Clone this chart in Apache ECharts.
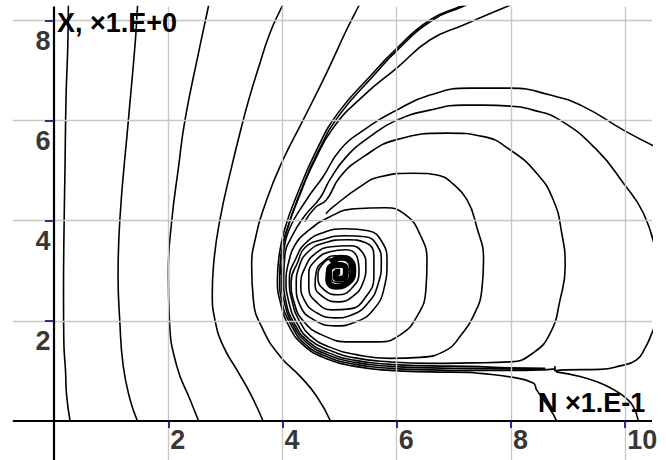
<!DOCTYPE html>
<html>
<head>
<meta charset="utf-8">
<script src="https://cdn.jsdelivr.net/npm/echarts@6/dist/echarts.min.js"></script>
<style>
  html, body { margin: 0; padding: 0; background: #ffffff; }
  #chart { width: 666px; height: 460px; }
</style>
</head>
<body>
<div id="chart"></div>
<script>
// Plot window (data units) and axis ticks
const xRange = [-0.725, 10.47];
const yRange = [-0.78, 8.28];
const xTicks = [2, 4, 6, 8, 10];
const yTicks = [2, 4, 6, 8];
const xName = 'N ×1.E-1';
const yName = 'X, ×1.E+0';

// Trajectories that run from the top edge down to the N axis
const left1 = [[0.25,8.4],[0.24,7.5],[0.21,6.5],[0.19,5.0],[0.17,3.5],[0.165,2.5],[0.17,1.6],[0.2,1.0],[0.22,0.5],[0.28,0.0]];
const left2 = [[1.47,8.4],[1.46,8.27],[1.42,7.55],[1.30,6.0],[1.15,4.0],[1.12,2.9],[1.15,2.0],[1.21,1.1],[1.33,0.43],[1.46,0.0]];
const left3 = [[2.72,8.4],[2.70,8.27],[2.53,7.36],[2.29,6.0],[2.18,5.08],[2.06,4.0],[2.0,2.96],[2.02,2.0],[2.15,1.09],[2.38,0.43],[2.53,0.0]];
const left4 = [[4.04,8.4],[3.99,8.28],[3.78,7.75],[3.55,6.95],[3.43,6.5],[3.31,6.0],[3.11,5.08],[2.9,4.0],[2.79,3.09],[2.77,2.55],[2.82,2.0],[2.96,1.5],[3.2,1.02],[3.43,0.56],[3.66,0.0]];
const left5 = [[5.39,8.4],[5.33,8.28],[5.12,7.81],[4.77,6.95],[4.36,6.01],[4.01,5.22],[3.72,4.41],[3.52,3.62],[3.46,3.09],[3.49,2.41],[3.66,1.82],[3.96,1.29],[4.31,0.89],[4.60,0.49],[4.84,0.0]];

// Outer bundle sweeping round the focus and leaving through the top
const sepA = [[8.80,0.00],[8.69,0.23],[8.45,0.62],[8.39,0.76],[7.98,0.88],[7.46,0.95],[7.28,0.97],[6.58,0.98],[5.88,1.01],[5.27,1.09],[4.78,1.24],[4.38,1.50],[4.11,1.90],[3.96,2.38],[3.91,2.82],[3.94,3.30],[4.04,3.84],[4.24,4.48],[4.60,5.42],[4.97,6.15],[5.53,6.88],[5.97,7.41],[6.58,8.01],[7.11,8.28],[7.46,8.45]];
const sepA2 = [[3.96,2.92],[3.98,3.32],[4.09,3.86],[4.28,4.48],[4.64,5.42],[5.02,6.15],[5.58,6.88],[6.01,7.41],[6.63,8.01],[7.16,8.28],[7.5,8.45]];
const sepB = [[8.77,1.04],[8.51,1.02],[7.98,1.01],[7.28,1.01],[6.58,1.02],[5.88,1.05],[5.27,1.13],[4.79,1.28],[4.40,1.53],[4.15,1.92],[3.99,2.38],[3.95,2.82],[3.97,3.30],[4.08,3.83],[4.34,4.62],[4.52,5.10],[4.89,5.86],[5.43,6.51],[6.01,7.06],[6.58,7.61],[7.17,7.91],[7.93,8.28],[8.33,8.47]];

// Large loops leaving through the right edge
const loopL1 = [[8.60,1.03],[7.98,1.04],[7.28,1.05],[6.58,1.06],[5.88,1.09],[5.27,1.17],[4.80,1.32],[4.43,1.56],[4.18,1.93],[4.03,2.38],[3.98,2.82],[4.01,3.29],[4.11,3.81],[4.42,4.42],[4.71,4.88],[5.01,5.42],[5.42,5.81],[6.00,6.21],[6.58,6.51],[7.28,6.65],[7.98,6.65],[8.69,6.51],[9.27,6.28],[9.97,5.81],[10.61,5.43]];
const loopL2 = [[8.60,1.05],[7.98,1.06],[7.28,1.09],[6.58,1.10],[5.88,1.13],[5.27,1.21],[4.81,1.36],[4.45,1.59],[4.21,1.94],[4.06,2.38],[4.02,2.82],[4.04,3.29],[4.17,3.70],[4.39,4.10],[4.66,4.46],[4.83,4.82],[5.12,5.28],[5.53,5.68],[6.00,6.01],[6.58,6.21],[7.17,6.31],[7.52,6.31],[7.98,6.29],[8.39,6.21],[8.86,6.01],[9.50,5.42],[9.97,4.75],[10.32,4.15],[10.54,3.36]];

// Short branches at the lower right
const hookRight = [[8.77,1.10],[8.77,1.00],[8.95,1.02],[9.56,1.03],[9.91,1.10],[10.20,1.22],[10.35,1.46],[10.47,1.76],[10.54,1.98]];
const hookDown = [[8.79,0.98],[9.21,0.89],[9.56,0.76],[9.79,0.63],[10.00,0.47],[10.14,0.29],[10.23,0.0]];

// Two trajectories winding into the stable focus near (5, 3)
const spiralC = [
  [4.39,3.98],[4.57,4.26],[4.77,4.42],[5.01,4.88],[5.42,5.28],[6.00,5.62],[6.88,5.75],[7.52,5.68],[7.98,5.42],[8.45,4.95],[8.74,4.42],[8.89,3.75],[8.95,3.09],[8.86,2.42],[8.69,1.76],[8.39,1.36],[7.98,1.18],[7.28,1.16],[6.58,1.15],[5.88,1.18],[5.27,1.26],[4.83,1.41],[4.48,1.62],[4.25,1.96],[4.11,2.38],[4.06,2.82],
  [4.11,3.18],[4.22,3.52],[4.45,3.80],[4.83,4.08],[5.27,4.24],[5.80,4.26],[6.15,4.12],[6.41,3.72],[6.53,3.18],[6.51,2.62],[6.37,2.12],[6.06,1.72],[5.67,1.58],[5.18,1.58],[4.69,1.72],[4.36,2.00],[4.20,2.38],[4.15,2.78],
  [4.27,3.18],[4.39,3.46],[4.69,3.62],[5.10,3.70],[5.45,3.68],[5.66,3.50],[5.73,3.18],[5.67,2.72],[5.50,2.36],[5.22,2.12],[4.92,2.06],[4.57,2.18],[4.38,2.42],[4.32,2.72],
  [4.41,3.10],[4.57,3.34],[4.85,3.48],[5.18,3.50],[5.39,3.38],[5.46,3.10],[5.41,2.76],[5.22,2.48],[4.97,2.38],[4.71,2.48],[4.57,2.72],[4.59,2.98],
  [4.71,3.18],[4.92,3.30],[5.15,3.26],[5.27,3.06],[5.18,2.78],[4.97,2.66],[4.80,2.78],[4.78,3.02],[4.92,3.14],[5.10,3.10],[5.06,2.90],[4.94,2.88],[4.97,2.98]
];
const spiralD = [
  [4.76,4.14],[4.89,4.28],[5.36,4.68],[5.71,4.88],[6.29,4.95],[6.76,4.90],[6.97,4.75],[7.23,4.42],[7.40,3.88],[7.52,3.22],[7.49,2.62],[7.34,2.09],[7.11,1.69],[6.88,1.42],[6.41,1.27],[5.88,1.25],[5.27,1.33],[4.84,1.47],[4.52,1.67],[4.30,1.99],[4.17,2.38],[4.12,2.82],
  [4.24,3.26],[4.41,3.56],[4.71,3.76],[5.10,3.84],[5.50,3.80],[5.74,3.58],[5.83,3.18],[5.78,2.66],[5.59,2.22],[5.29,1.98],[4.92,1.90],[4.55,2.02],[4.31,2.30],[4.24,2.72],
  [4.29,3.08],[4.45,3.38],[4.74,3.56],[5.13,3.62],[5.46,3.56],[5.60,3.30],[5.60,2.90],[5.46,2.48],[5.18,2.24],[4.87,2.22],[4.59,2.38],[4.46,2.66],[4.46,2.94],
  [4.59,3.22],[4.83,3.38],[5.11,3.42],[5.31,3.26],[5.34,2.98],[5.22,2.66],[4.97,2.52],[4.73,2.62],[4.62,2.86],[4.69,3.12],[4.89,3.24],[5.11,3.20],[5.18,2.98],[5.06,2.76],[4.87,2.80],[4.85,3.00],[5.01,3.08]
];
// Tightly wound core right at the focus
const focusCore = [[4.85,3.16],[5.02,3.26],[5.19,3.20],[5.24,2.98],[5.12,2.74],[4.93,2.68],[4.80,2.82],[4.82,3.04],[4.97,3.12],[5.11,3.04],[5.06,2.84],[4.93,2.84],[4.93,2.98],[5.01,2.98]];

const trajectories = [left1, left2, left3, left4, left5, sepA, sepA2, sepB, loopL1, loopL2, hookRight, hookDown, spiralC, spiralD];

const FONT = '"Liberation Sans", Arial, sans-serif';
const TICK_BLUE = '#1414a8';

function seg(a, b) { return [{ coord: a }, { coord: b }]; }

const gridLines = []
  .concat(xTicks.map(v => seg([v, yRange[0]], [v, yRange[1]])))
  .concat(yTicks.map(v => seg([xRange[0], v], [xRange[1], v])));
const axisLines = [seg([xRange[0], 0], [xRange[1], 0]), seg([0, yRange[0]], [0, yRange[1]])];
const tickMarks = []
  .concat(xTicks.map(v => seg([v, 0], [v, -0.14])))
  .concat(yTicks.map(v => seg([-0.16, v], [0, v])));

function frameSeries(name, lines, style, z) {
  return {
    name, type: 'line', data: [], silent: true, z,
    markLine: {
      silent: true, symbol: ['none', 'none'], animation: false,
      label: { show: false }, emphasis: { disabled: true },
      lineStyle: Object.assign({ type: 'solid' }, style),
      data: lines
    }
  };
}

const series = [
  frameSeries('grid', gridLines, { color: '#c8c8c8', width: 1.4 }, 1),
  frameSeries('axes', axisLines, { color: '#000000', width: 2.2 }, 2),
  frameSeries('ticks', tickMarks, { color: TICK_BLUE, width: 1.8 }, 3)
];

trajectories.forEach((d, i) => {
  series.push({
    name: 'trajectory' + i, type: 'line', data: d, showSymbol: false, smooth: 0.5,
    clip: true, silent: true, z: 4,
    lineStyle: { color: '#000000', width: 1.6 }
  });
});
series.push({
  name: 'focus', type: 'line', data: focusCore, showSymbol: false, smooth: 0.5,
  clip: true, silent: true, z: 4,
  lineStyle: { color: '#000000', width: 6 }
});

const labelFont = { fontSize: 27, fontWeight: 'bold', fontFamily: FONT, color: '#000000' };
series.push({
  name: 'xLabels', type: 'scatter', symbolSize: 1, silent: true, z: 6,
  itemStyle: { color: 'rgba(0,0,0,0)' },
  data: xTicks.map(v => [v, 0]),
  label: Object.assign({ show: true, formatter: p => String(p.value[0]), position: [2.5, 6], align: 'left', verticalAlign: 'top' }, labelFont)
});
series.push({
  name: 'yLabels', type: 'scatter', symbolSize: 1, silent: true, z: 6,
  itemStyle: { color: 'rgba(0,0,0,0)' },
  data: yTicks.map(v => [0, v]),
  label: Object.assign({ show: true, formatter: p => String(p.value[1]), position: [-3, 7], align: 'right', verticalAlign: 'top' }, labelFont)
});

const chart = echarts.init(document.getElementById('chart'), null, { renderer: 'svg', width: 666, height: 460 });
chart.setOption({
  animation: false,
  backgroundColor: '#ffffff',
  grid: { left: 12.7, top: 6.5, width: 639.3, height: 453.7, containLabel: false },
  xAxis: { type: 'value', min: xRange[0], max: xRange[1], show: false },
  yAxis: { type: 'value', min: yRange[0], max: yRange[1], show: false },
  graphic: [
    { type: 'text', left: 57, top: 9, z: 10, silent: true,
      style: { text: yName, font: 'bold 27px ' + FONT, fill: '#000000' } },
    { type: 'text', left: 538, top: 389, z: 10, silent: true,
      style: { text: xName, font: 'bold 27px ' + FONT, fill: '#000000' } }
  ],
  series
});
</script>
</body>
</html>
